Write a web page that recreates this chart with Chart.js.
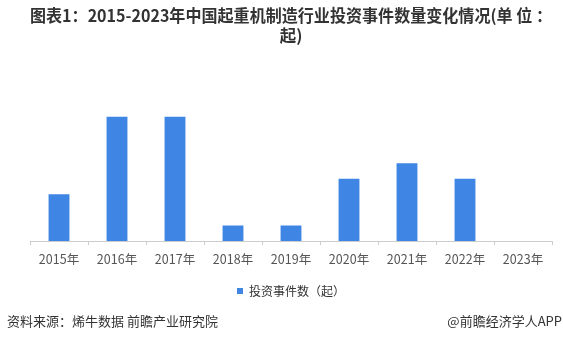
<!DOCTYPE html>
<html>
<head>
<meta charset="utf-8">
<script src="https://cdn.jsdelivr.net/npm/chart.js@4/dist/chart.umd.min.js"></script>
<style>
  html, body { margin: 0; padding: 0; background: #fff; }
  .wrap { position: relative; width: 563px; height: 343px; }
  .foot { position: absolute; top: 311px; font: 13px "Noto Sans CJK SC", sans-serif; color: #333; }
  #src { left: 7px; }
  #app { right: 1px; }
</style>
</head>
<body>
<div class="wrap">
  <canvas id="Chart" width="563" height="343"></canvas>
  <div class="foot" id="src">资料来源：烯牛数据 前瞻产业研究院</div>
  <div class="foot" id="app">@前瞻经济学人APP</div>
</div>
<script>
const years = ['2015年', '2016年', '2017年', '2018年', '2019年', '2020年', '2021年', '2022年', '2023年'];
const eventCounts = [3, 8, 8, 1, 1, 4, 5, 4, 0];
const seriesName = '投资事件数（起）';
const titleLines = ['图表1：2015-2023年中国起重机制造行业投资事件数量变化情况(单 位 ：', '起)'];

const cjk = '"Noto Sans CJK SC", "Noto Sans", sans-serif';

new Chart('Chart', {
  type: 'bar',
  data: {
    labels: years,
    datasets: [{
      label: seriesName,
      data: eventCounts,
      backgroundColor: '#3f86e4',
      barPercentage: 0.36,
      categoryPercentage: 1
    }]
  },
  options: {
    responsive: false,
    animation: false,
    layout: { padding: { left: 30, right: 11, top: 0, bottom: 36 } },
    plugins: {
      title: {
        display: true,
        text: titleLines,
        color: '#333',
        font: { family: cjk, size: 16.5, weight: 'bold', lineHeight: 1.2 },
        padding: { top: 6, bottom: 71 }
      },
      legend: {
        position: 'bottom',
        labels: {
          boxWidth: 6,
          boxHeight: 6,
          color: '#333',
          font: { family: cjk, size: 12 },
          padding: 11
        }
      },
      tooltip: { enabled: false }
    },
    scales: {
      x: {
        grid: {
          display: true,
          drawOnChartArea: false,
          offset: true,
          tickLength: 4,
          color: '#ccc'
        },
        border: { color: '#ccc' },
        ticks: {
          color: '#555',
          font: { family: cjk, size: 12.5 },
          padding: 7
        }
      },
      y: {
        display: false,
        min: 0,
        max: 8
      }
    }
  }
});
</script>
</body>
</html>
